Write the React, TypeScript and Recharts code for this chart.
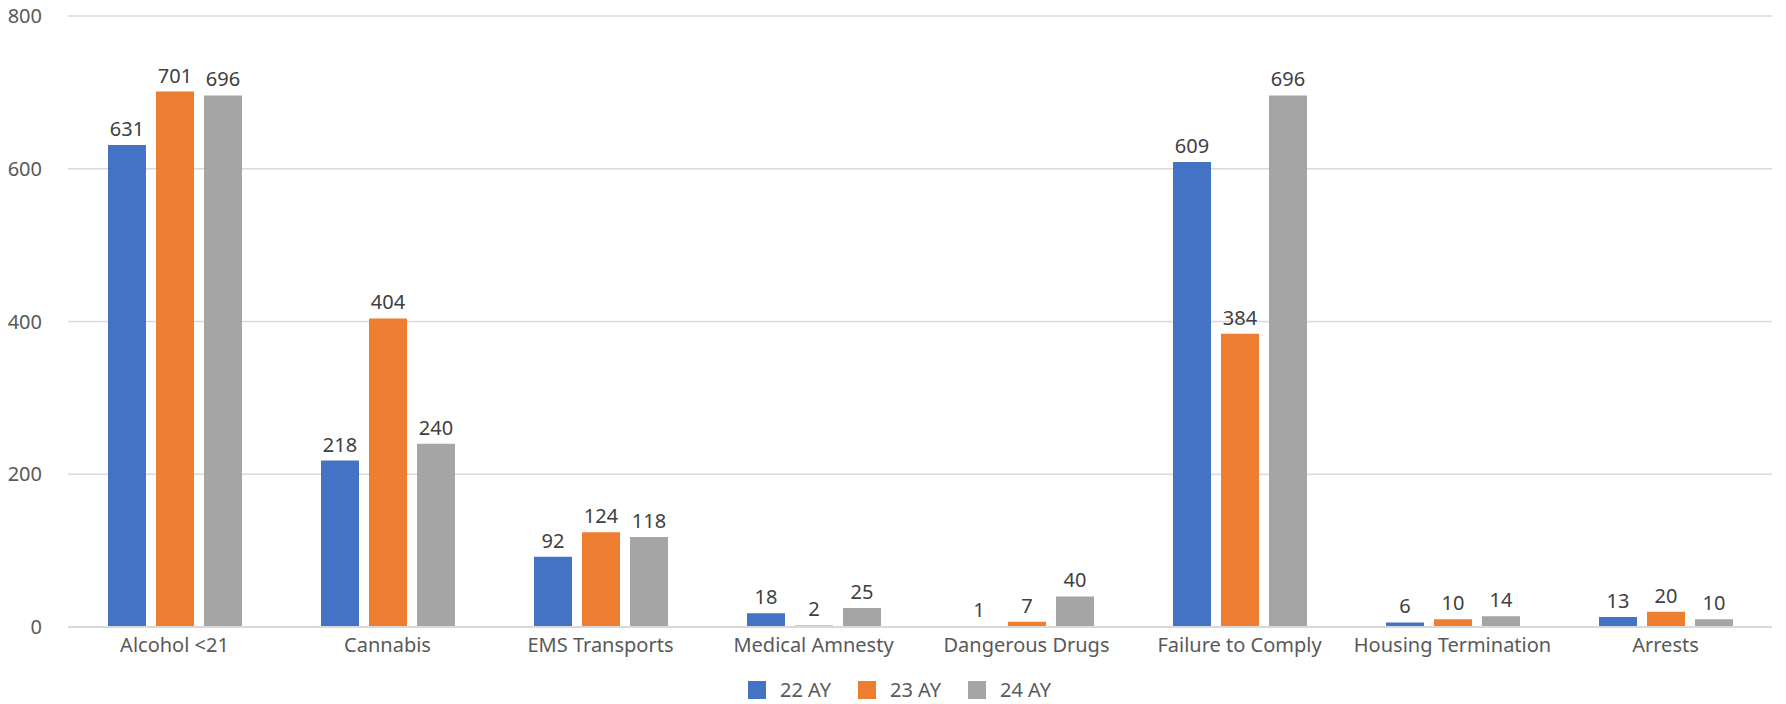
import { BarChart, Bar, XAxis, YAxis, CartesianGrid, LabelList } from "recharts";

const categories = [
  "Alcohol <21",
  "Cannabis",
  "EMS Transports",
  "Medical Amnesty",
  "Dangerous Drugs",
  "Failure to Comply",
  "Housing Termination",
  "Arrests",
];
const ay22 = [631, 218, 92, 18, 1, 609, 6, 13];
const ay23 = [701, 404, 124, 2, 7, 384, 10, 20];
const ay24 = [696, 240, 118, 25, 40, 696, 14, 10];
const yTicks = [0, 200, 400, 600, 800];

const series = [
  { key: "ay22", name: "22 AY", color: "#4472C4" },
  { key: "ay23", name: "23 AY", color: "#ED7D31" },
  { key: "ay24", name: "24 AY", color: "#A5A5A5" },
];

const data = categories.map((name, i) => ({
  name,
  ay22: ay22[i],
  ay23: ay23[i],
  ay24: ay24[i],
}));

const FONT = "'Noto Sans', sans-serif";

export default function App() {
  return (
    <div style={{ position: "absolute", left: 0, top: 0, width: 1786, height: 704, background: "#fff" }}>
      <BarChart
        width={1786}
        height={704}
        data={data}
        margin={{ top: 16, right: 14, bottom: 47, left: 0 }}
        barGap={10}
        barSize={38}
      >
        <CartesianGrid vertical={false} stroke="#d9d9d9" strokeWidth={1.5} />
        <XAxis
          dataKey="name"
          height={30}
          tickLine={false}
          axisLine={{ stroke: "#d9d9d9", strokeWidth: 2 }}
          tick={{ fill: "#595959", fontSize: 20, fontFamily: FONT }}
          tickSize={0}
          tickMargin={11}
        />
        <YAxis
          width={68}
          domain={[0, 800]}
          ticks={yTicks}
          tickLine={false}
          axisLine={false}
          tickSize={0}
          tickMargin={26}
          tick={{ fill: "#595959", fontSize: 20, fontFamily: FONT }}
        />
        {series.map((s) => (
          <Bar key={s.key} dataKey={s.key} name={s.name} fill={s.color} isAnimationActive={false}>
            <LabelList
              dataKey={s.key}
              position="top"
              offset={9}
              style={{ fill: "#404040", fontSize: 20, fontFamily: FONT }}
            />
          </Bar>
        ))}
      </BarChart>
      <div
        style={{
          position: "absolute",
          left: 0,
          width: 1786,
          top: 676,
          display: "flex",
          justifyContent: "center",
          gap: 27,
          fontFamily: FONT,
          fontSize: 20,
          color: "#595959",
          paddingLeft: 13,
          boxSizing: "border-box",
        }}
      >
        {series.map((s) => (
          <div key={s.key} style={{ display: "flex", alignItems: "center", gap: 14 }}>
            <span style={{ width: 18, height: 18, background: s.color, display: "inline-block" }} />
            <span>{s.name}</span>
          </div>
        ))}
      </div>
    </div>
  );
}
